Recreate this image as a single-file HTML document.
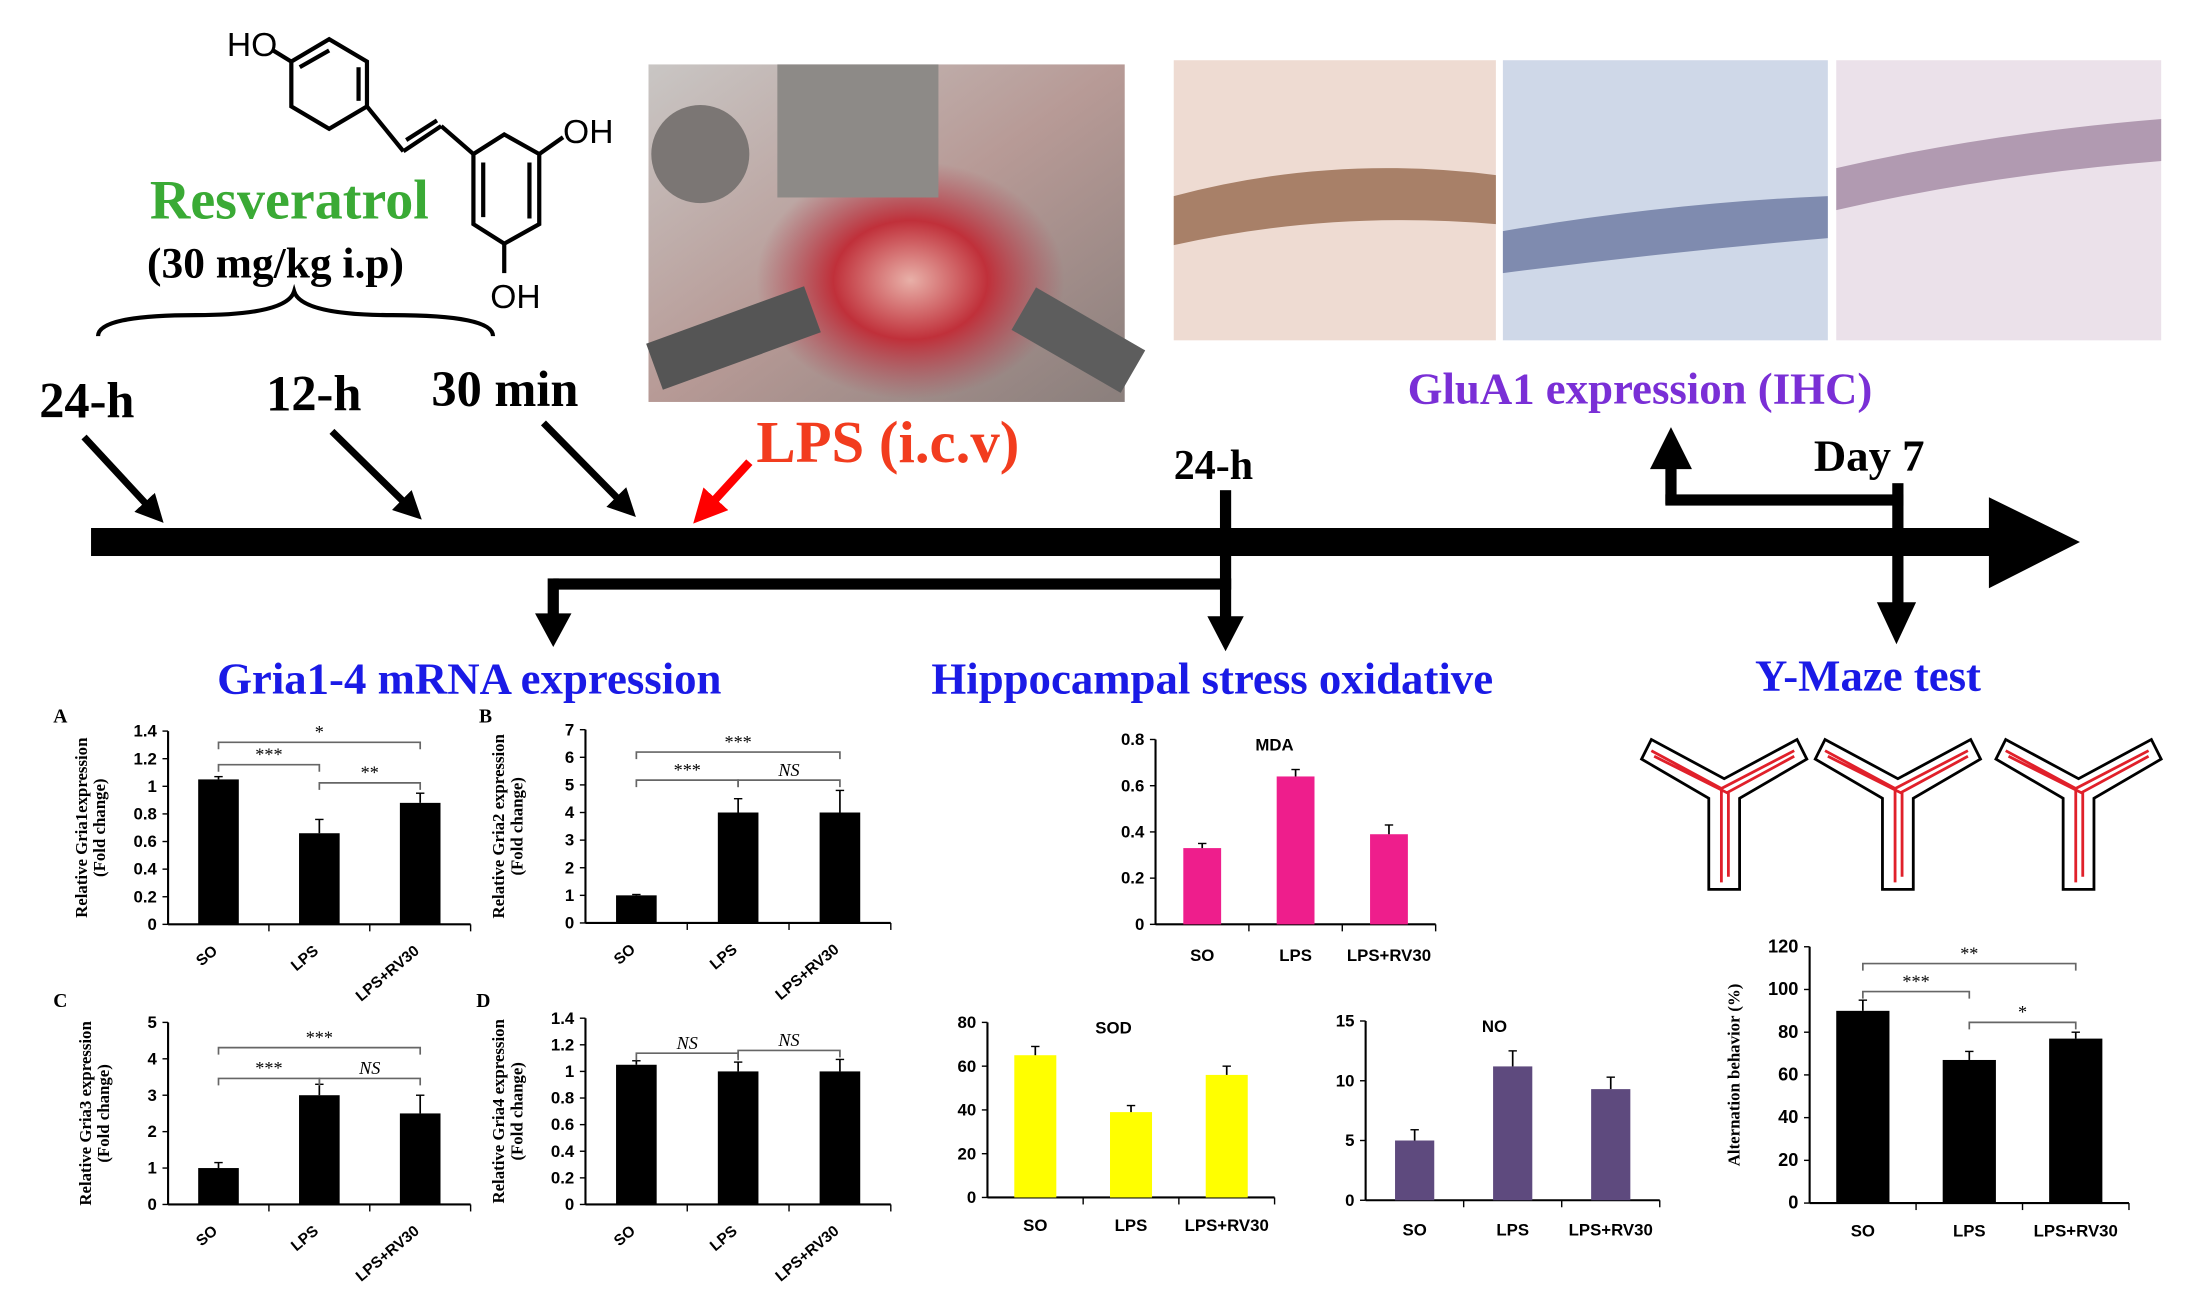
<!DOCTYPE html>
<html><head><meta charset="utf-8"><style>
html,body{margin:0;padding:0;background:#fff;}
svg{display:block;}
</style></head><body>
<svg id="s" width="2185" height="1299" viewBox="0 0 1560 927.5" preserveAspectRatio="none" xmlns="http://www.w3.org/2000/svg" font-family="Liberation Serif, serif">
<defs>
<linearGradient id="ph" x1="0" y1="0" x2="1" y2="1"><stop offset="0" stop-color="#c9c6c4"/><stop offset="0.5" stop-color="#b79a96"/><stop offset="1" stop-color="#8a7f7c"/></linearGradient>
<radialGradient id="wound" cx="0.5" cy="0.5" r="0.5"><stop offset="0" stop-color="#e8b0a8"/><stop offset="0.5" stop-color="#c0303a"/><stop offset="1" stop-color="#b04050" stop-opacity="0"/></radialGradient>
<marker id="ah" markerWidth="4" markerHeight="4" refX="2" refY="2" orient="auto" markerUnits="strokeWidth"><path d="M0,0 L4,2 L0,4 z" fill="#000"/></marker>
<marker id="ahr" markerWidth="4" markerHeight="4" refX="2" refY="2" orient="auto" markerUnits="strokeWidth"><path d="M0,0 L4,2 L0,4 z" fill="#f00"/></marker>
</defs>
<rect width="1560" height="927.5" fill="#fff"/>
<g stroke="#000" stroke-width="3" fill="none">
<polygon points="235,28 262,44 262,76 235,92 208,76 208,44"/>
<line x1="214" y1="48" x2="235" y2="36"/><line x1="256" y1="48" x2="256" y2="72"/>
<line x1="208" y1="44" x2="195" y2="36"/>
<line x1="262" y1="76" x2="288" y2="108"/><line x1="288" y1="108" x2="315" y2="90"/><line x1="290" y1="100" x2="312" y2="86"/>
<line x1="315" y1="90" x2="338" y2="110"/>
<polygon points="360,96 385,110 385,160 360,174 338,160 338,110"/>
<line x1="345" y1="155" x2="345" y2="116"/><line x1="378" y1="116" x2="378" y2="156"/>
<line x1="385" y1="110" x2="402" y2="98"/><line x1="360" y1="174" x2="360" y2="195"/>
<path d="M70,240 Q70,225 140,225 Q205,225 210,208 Q215,225 280,225 Q352,225 352,240"/>
</g>
<text x="162" y="40" font-size="24" font-family="Liberation Sans, sans-serif">HO</text>
<text x="402" y="102" font-size="24" font-family="Liberation Sans, sans-serif">OH</text>
<text x="350" y="220" font-size="24" font-family="Liberation Sans, sans-serif">OH</text>
<text x="107" y="156" font-size="40" font-weight="bold" fill="#3aaa35">Resveratrol</text>
<text x="105" y="198" font-size="31" font-weight="bold">(30 mg/kg i.p)</text>
<text x="28" y="298" font-size="36" font-weight="bold">24-h</text>
<text x="190" y="293" font-size="36" font-weight="bold">12-h</text>
<text x="308" y="290" font-size="36" font-weight="bold">30 min</text>
<g stroke="#000" stroke-width="5" marker-end="url(#ah)">
<line x1="60" y1="312" x2="110" y2="366"/><line x1="237" y1="308" x2="294" y2="364"/><line x1="388" y1="302" x2="447" y2="362"/>
</g>
<line x1="535" y1="330" x2="503" y2="365" stroke="#f00" stroke-width="6" marker-end="url(#ahr)"/>
<rect x="463" y="46" width="340" height="241" fill="url(#ph)"/>
<ellipse cx="650" cy="200" rx="110" ry="85" fill="url(#wound)"/>
<rect x="555" y="46" width="115" height="95" fill="#8d8a87"/>
<circle cx="500" cy="110" r="35" fill="#7b7674"/>
<rect x="463" y="225" width="120" height="35" fill="#555" transform="rotate(-20 520 240)"/>
<rect x="725" y="220" width="90" height="35" fill="#5d5d5d" transform="rotate(30 760 240)"/>
<text x="540" y="330" font-size="42" font-weight="bold" fill="#f23c1e">LPS (i.c.v)</text>
<rect x="838" y="43" width="230" height="200" fill="#eedbd2"/>
<path d="M838,140 Q950,110 1068,125 L1068,160 Q950,150 838,175z" fill="#8a5a3a" opacity="0.7"/>
<rect x="1073" y="43" width="232" height="200" fill="#cfd8e8"/>
<path d="M1073,165 Q1190,145 1305,140 L1305,170 Q1190,180 1073,195z" fill="#4a5888" opacity="0.6"/>
<rect x="1311" y="43" width="232" height="200" fill="#ebe1ea"/>
<path d="M1311,120 Q1420,95 1543,85 L1543,115 Q1420,125 1311,150z" fill="#8a6a8a" opacity="0.6"/>
<text x="1005" y="288" font-size="32" font-weight="bold" fill="#7a2fd6">GluA1 expression (IHC)</text>
<rect x="65" y="377" width="1370" height="20" fill="#000"/>
<polygon points="1420,355 1485,387 1420,420" fill="#000"/>
<text x="838" y="342" font-size="30" font-weight="bold">24-h</text>
<rect x="871" y="350" width="8" height="95"/>
<polygon points="862,440 888,440 875,465"/>
<rect x="395" y="413" width="484" height="8"/>
<rect x="391" y="413" width="8" height="30"/>
<polygon points="382,438 408,438 395,462"/>
<text x="1295" y="336" font-size="32" font-weight="bold">Day 7</text>
<rect x="1351" y="345" width="8" height="90"/>
<polygon points="1340,430 1368,430 1354,460"/>
<rect x="1189" y="353" width="170" height="8"/>
<rect x="1189" y="330" width="8" height="30"/>
<polygon points="1178,335 1208,335 1193,305"/>
<g font-size="32" font-weight="bold" fill="#1a1ae6">
<text x="155" y="495">Gria1-4 mRNA expression</text>
<text x="665" y="495">Hippocampal stress oxidative</text>
<text x="1253" y="493">Y-Maze test</text>
</g>
<g id="mazes" stroke="#000" stroke-width="2" fill="none"></g>
<g id="charts"></g>
</svg>
<script>
var NS="http://www.w3.org/2000/svg";
function el(p,t,a,txt){var e=document.createElementNS(NS,t);for(var k in a)e.setAttribute(k,a[k]);if(txt!=null)e.textContent=txt;p.appendChild(e);return e;}
var G=document.getElementById('charts');
function chart(o){
 var x0=o.x,y0=o.y0,y1=o.y1,max=o.max,sc=(y0-y1)/max;
 el(G,'line',{x1:x0,y1:y1,x2:x0,y2:y0,stroke:'#000','stroke-width':1.5});
 el(G,'line',{x1:x0,y1:y0,x2:o.xe,y2:y0,stroke:'#000','stroke-width':1.5});
 for(var v=0;v<=max+1e-9;v+=o.step){var y=y0-v*sc;el(G,'line',{x1:x0-4,y1:y,x2:x0,y2:y,stroke:'#000'});
  el(G,'text',{x:x0-8,y:y+4,'font-size':o.fs||12,'text-anchor':'end','font-family':'Liberation Sans, sans-serif','font-weight':'bold'},(Math.round(v*10)/10).toString());}
 var n=o.bars.length,cw=(o.xe-x0)/n;
 for(var i=1;i<=n;i++)el(G,'line',{x1:x0+i*cw,y1:y0,x2:x0+i*cw,y2:y0+5,stroke:'#000'});
 var labs=['SO','LPS','LPS+RV30'];
 o.bars.forEach(function(b,i){var cx=x0+cw*(i+0.5),w=o.bw,h=b[0]*sc;
  el(G,'rect',{x:cx-w/2,y:y0-h,width:w,height:h,fill:o.col});
  var ey=y0-(b[0]+b[1])*sc;el(G,'line',{x1:cx,y1:y0-h,x2:cx,y2:ey,stroke:'#000','stroke-width':1.2});el(G,'line',{x1:cx-3,y1:ey,x2:cx+3,y2:ey,stroke:'#000'});
  if(o.rot){el(G,'text',{x:cx,y:y0+20,'font-size':11,'font-family':'Liberation Sans, sans-serif','font-weight':'bold','text-anchor':'end',transform:'rotate(-40 '+cx+' '+(y0+20)+')'},labs[i]);}
  else el(G,'text',{x:cx,y:y0+o.ly,'font-size':12,'font-family':'Liberation Sans, sans-serif','font-weight':'bold','text-anchor':'middle'},labs[i]);
 });
 if(o.yl){var lx=x0-o.ylo,ly=(y0+y1)/2;
  el(G,'text',{x:lx,y:ly,'font-size':12,'font-weight':'bold','text-anchor':'middle',transform:'rotate(-90 '+lx+' '+ly+')'},o.yl);
  if(o.yl2)el(G,'text',{x:lx+13,y:ly,'font-size':12,'font-weight':'bold','text-anchor':'middle',transform:'rotate(-90 '+(lx+13)+' '+ly+')'},o.yl2);}
 if(o.title)el(G,'text',{x:o.tx,y:y1+8,'font-size':12,'font-family':'Liberation Sans, sans-serif','font-weight':'bold','text-anchor':'middle'},o.title);
 (o.sig||[]).forEach(function(s){var a=x0+cw*(s[0]+0.5),b=x0+cw*(s[1]+0.5);
  el(G,'path',{d:'M'+a+','+(s[2]+5)+' V'+s[2]+' H'+b+' V'+(s[2]+5),stroke:'#666',fill:'none','stroke-width':1.2});
  el(G,'text',{x:(a+b)/2,y:s[2]-3,'font-size':13,'text-anchor':'middle','font-style':s[3]=='NS'?'italic':'normal'},s[3]);});
}
el(G,'text',{x:38,y:516,'font-size':14,'font-weight':'bold'},'A');
el(G,'text',{x:342,y:516,'font-size':14,'font-weight':'bold'},'B');
el(G,'text',{x:38,y:719,'font-size':14,'font-weight':'bold'},'C');
el(G,'text',{x:340,y:719,'font-size':14,'font-weight':'bold'},'D');
chart({x:120,xe:336,y0:660,y1:522,max:1.4,step:0.2,bars:[[1.05,0.02],[0.66,0.1],[0.88,0.07]],col:'#000',bw:29,rot:1,yl:'Relative Gria1expression',yl2:'(Fold change)',ylo:58,
 sig:[[0,1,546,'***'],[1,2,559,'**'],[0,2,530,'*']]});
chart({x:418,xe:636,y0:659,y1:521,max:7,step:1,bars:[[1,0.03],[4,0.5],[4,0.8]],col:'#000',bw:29,rot:1,yl:'Relative Gria2 expression',yl2:'(Fold change)',ylo:58,
 sig:[[0,1,557,'***'],[1,2,557,'NS'],[0,2,537,'***']]});
chart({x:120,xe:336,y0:860,y1:730,max:5,step:1,bars:[[1,0.15],[3,0.3],[2.5,0.5]],col:'#000',bw:29,rot:1,yl:'Relative Gria3 expression',yl2:'(Fold change)',ylo:55,
 sig:[[0,1,770,'***'],[1,2,770,'NS'],[0,2,748,'***']]});
chart({x:418,xe:636,y0:860,y1:727,max:1.4,step:0.2,bars:[[1.05,0.03],[1,0.07],[1,0.09]],col:'#000',bw:29,rot:1,yl:'Relative Gria4 expression',yl2:'(Fold change)',ylo:58,
 sig:[[0,1,752,'NS'],[1,2,750,'NS']]});
chart({x:825,xe:1025,y0:660,y1:528,max:0.8,step:0.2,bars:[[0.33,0.02],[0.64,0.03],[0.39,0.04]],col:'#ee1e8c',bw:27,ly:26,title:'MDA',tx:910});
chart({x:705,xe:910,y0:855,y1:730,max:80,step:20,bars:[[65,4],[39,3],[56,4]],col:'#ffff00',bw:30,ly:24,title:'SOD',tx:795});
chart({x:975,xe:1185,y0:857,y1:729,max:15,step:5,bars:[[5,0.9],[11.2,1.3],[9.3,1]],col:'#5e4a7e',bw:28,ly:25,title:'NO',tx:1067});
chart({x:1292,xe:1520,y0:859,y1:676,max:120,step:20,bars:[[90,5],[67,4],[77,3]],col:'#000',bw:38,ly:24,fs:13,yl:'Alternation behavior (%)',ylo:50,
 sig:[[0,1,708,'***'],[1,2,730,'*'],[0,2,688,'**']]});
var M=document.getElementById('mazes');
[1231,1355,1484].forEach(function(cx){
 var cy=568;
 var d='M'+(cx-59)+','+(cy-26)+' L'+(cx-52)+','+(cy-40)+' L'+cx+','+(cy-12)+' L'+(cx+52)+','+(cy-40)+' L'+(cx+59)+','+(cy-26)+' L'+(cx+11)+','+(cy+2)+' L'+(cx+11)+','+(cy+67)+' L'+(cx-11)+','+(cy+67)+' L'+(cx-11)+','+(cy+2)+' Z';
 el(M,'path',{d:d});
 el(M,'path',{d:'M'+(cx-52)+','+(cy-32)+' L'+(cx-2)+','+(cy-5)+' L'+(cx+50)+','+(cy-32)+' M'+(cx-50)+','+(cy-28)+' L'+(cx+2)+','+(cy-2)+' L'+(cx+50)+','+(cy-28)+' M'+(cx-2)+','+(cy-4)+' L'+(cx-2)+','+(cy+62)+' M'+(cx+3)+','+(cy-2)+' L'+(cx+3)+','+(cy+58),stroke:'#e0202a','stroke-width':2});
});
</script>
</body></html>
